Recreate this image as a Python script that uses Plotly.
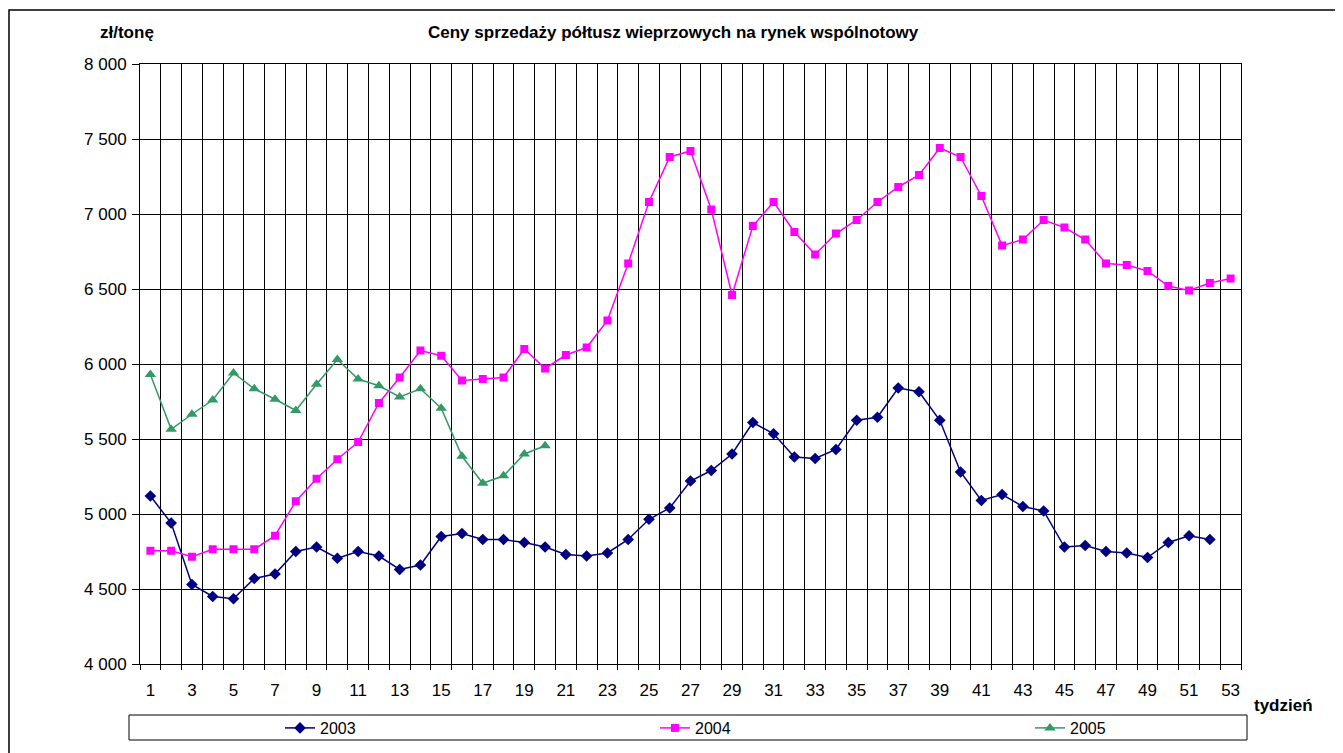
import plotly.graph_objects as go

weeks = list(range(1, 54))

y2003 = [5120, 4940, 4530, 4450, 4435, 4570, 4600, 4750, 4780, 4705,
         4750, 4720, 4630, 4660, 4850, 4870, 4830, 4830, 4810, 4780,
         4730, 4720, 4740, 4830, 4965, 5040, 5220, 5290, 5400, 5610,
         5535, 5380, 5370, 5430, 5625, 5645, 5840, 5815, 5625, 5280,
         5090, 5130, 5050, 5020, 4780, 4790, 4750, 4740, 4710, 4810,
         4855, 4830]

y2004 = [4755, 4755, 4715, 4765, 4765, 4765, 4855, 5085, 5235, 5365,
         5480, 5740, 5910, 6090, 6055, 5890, 5900, 5910, 6100, 5970,
         6060, 6110, 6290, 6670, 7080, 7380, 7420, 7030, 6460, 6920,
         7080, 6880, 6730, 6870, 6960, 7080, 7180, 7260, 7440, 7380,
         7120, 6790, 6830, 6960, 6910, 6830, 6670, 6660, 6620, 6520,
         6490, 6540, 6570]

y2005 = [5930, 5565, 5665, 5760, 5940, 5835, 5765, 5690, 5865, 6030,
         5900, 5855, 5780, 5835, 5705, 5385, 5205, 5255, 5400, 5455]

x_ticks = list(range(1, 54, 2))
y_ticks = list(range(4000, 8001, 500))

FONT = "Liberation Sans, Arial, sans-serif"

# page offset from the default body margin of the html page
OFF = 8
# plot area in page pixels (target)
L, R, T, B = 140, 1241, 64, 664
W, H = 1343, 753
PW, PH = R - L, B - T


def px(x):
    return (x - L) / PW


def py(y):
    return (B - y) / PH


fig = go.Figure()
fig.add_trace(go.Scatter(x=weeks[:len(y2003)], y=y2003, name="2003", mode="lines+markers",
                         line=dict(color="#000080", width=1.5),
                         marker=dict(symbol="diamond", size=9, color="#000080"),
                         legend="legend"))
fig.add_trace(go.Scatter(x=weeks[:len(y2004)], y=y2004, name="2004", mode="lines+markers",
                         line=dict(color="#FF00FF", width=1.5),
                         marker=dict(symbol="square", size=8, color="#FF00FF"),
                         legend="legend2"))
fig.add_trace(go.Scatter(x=weeks[:len(y2005)], y=y2005, name="2005", mode="lines+markers",
                         line=dict(color="#339966", width=1.5),
                         marker=dict(symbol="triangle-up", size=10, color="#339966"),
                         legend="legend3"))

leg_common = dict(orientation="h", yanchor="middle", xanchor="left",
                  bgcolor="rgba(0,0,0,0)", borderwidth=0,
                  font=dict(family=FONT, size=16, color="black"))
leg_y = py(728)

fig.update_layout(
    width=W, height=H,
    margin=dict(l=L - OFF, r=W - R + OFF, t=T - OFF, b=H - B + OFF, autoexpand=False),
    paper_bgcolor="white", plot_bgcolor="white",
    separators=", ",
    font=dict(family=FONT, size=17, color="black"),
    showlegend=True,
    legend=dict(leg_common, x=px(280), y=leg_y),
    legend2=dict(leg_common, x=px(655), y=leg_y),
    legend3=dict(leg_common, x=px(1030), y=leg_y),
    xaxis=dict(range=[0.5, 53.5], tickmode="array", tickvals=x_ticks,
               ticktext=[str(v) for v in x_ticks], ticks="", showgrid=False,
               showline=True, linecolor="black", linewidth=1, mirror=True,
               zeroline=False, tickfont=dict(size=17), ticklabelstandoff=11,
               minor=dict(tickmode="linear", tick0=0.5, dtick=1, showgrid=True,
                          gridcolor="black", gridwidth=1, ticks="outside",
                          ticklen=5, tickcolor="black")),
    yaxis=dict(range=[4000, 8000], tickmode="array", tickvals=y_ticks,
               tickformat=",d", ticks="outside", ticklen=7, tickcolor="black",
               showgrid=True, gridcolor="black", gridwidth=1,
               showline=True, linecolor="black", linewidth=1, mirror=True,
               zeroline=False, tickfont=dict(size=17), ticklabelstandoff=2),
    shapes=[
        dict(type="rect", xref="paper", yref="paper",
             x0=px(9), x1=px(1339), y0=py(770), y1=py(10),
             line=dict(color="black", width=1.5), layer="below"),
        dict(type="rect", xref="paper", yref="paper",
             x0=px(129), x1=px(1247), y0=py(740), y1=py(715),
             line=dict(color="black", width=1)),
    ],
    annotations=[
        dict(text="<b>Ceny sprzedaży półtusz wieprzowych na rynek wspólnotowy</b>",
             xref="paper", yref="paper", x=px(673), y=py(33),
             xanchor="center", yanchor="middle", showarrow=False,
             font=dict(family=FONT, size=17, color="black")),
        dict(text="<b>zł/tonę</b>", xref="paper", yref="paper",
             x=px(127), y=py(33), xanchor="center", yanchor="middle",
             showarrow=False, font=dict(family=FONT, size=17, color="black")),
        dict(text="<b>tydzień</b>", xref="paper", yref="paper",
             x=px(1283), y=py(705), xanchor="center", yanchor="middle",
             showarrow=False, font=dict(family=FONT, size=17, color="black")),
    ],
)

fig.write_html("out.html")
